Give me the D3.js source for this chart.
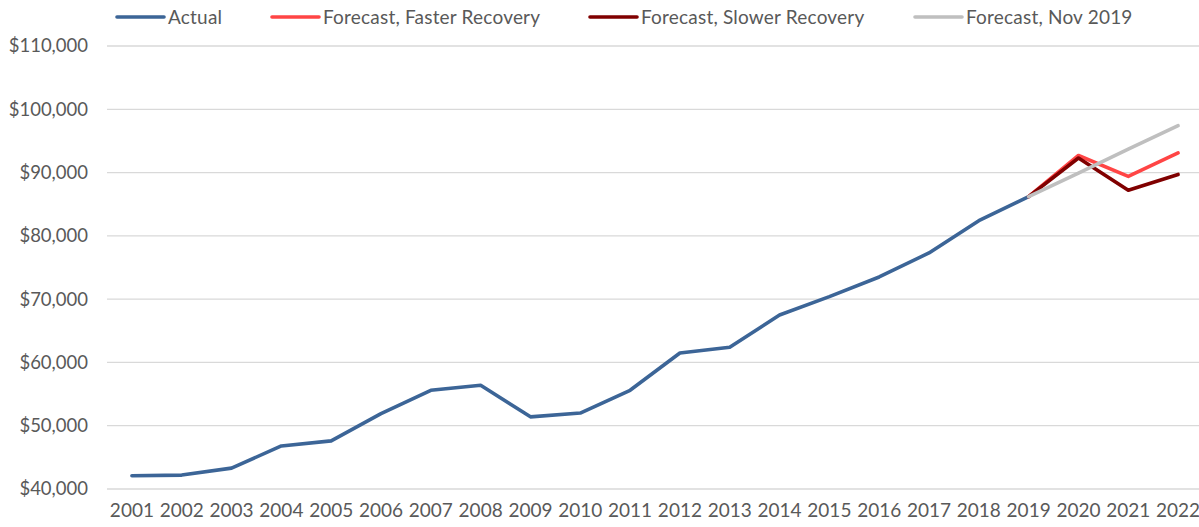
<!DOCTYPE html>
<html>
<head>
<meta charset="utf-8">
<script src="https://cdn.jsdelivr.net/npm/d3@7"></script>
<style>
  html, body { margin: 0; padding: 0; background: #fff; }
  svg { display: block; }
  text { font-family: Lato, "Open Sans", sans-serif; fill: #595959; }
</style>
</head>
<body>
<svg id="chart" width="1199" height="527"></svg>
<script>
const years = ["2001","2002","2003","2004","2005","2006","2007","2008","2009","2010","2011","2012","2013","2014","2015","2016","2017","2018","2019","2020","2021","2022"];
const actualYears = years.slice(0, 19);
const actual = [42100, 42200, 43300, 46800, 47600, 51900, 55600, 56400, 51400, 52000, 55600, 61500, 62400, 67500, 70400, 73500, 77300, 82400, 86200];
const forecastYears = ["2019","2020","2021","2022"];
const faster = [86200, 92700, 89400, 93100];
const slower = [86200, 92300, 87200, 89700];
const nov2019 = [86200, 89900, 93700, 97400];
const yTicks = [40000, 50000, 60000, 70000, 80000, 90000, 100000, 110000];
const seriesNames = ["Actual", "Forecast, Faster Recovery", "Forecast, Slower Recovery", "Forecast, Nov 2019"];
const seriesColors = ["#3C6597", "#FF4545", "#800000", "#BFBFBF"];

const svg = d3.select("#chart");
const x = d3.scaleBand().domain(years).range([107, 1203]);
const y = d3.scaleLinear().domain([40000, 110000]).range([489, 46]);
const cx = d => x(d) + x.bandwidth() / 2;

// gridlines
svg.append("g").selectAll("line").data(yTicks).join("line")
  .attr("x1", 107).attr("x2", 1203)
  .attr("y1", d => y(d)).attr("y2", d => y(d))
  .attr("stroke", "#D9D9D9").attr("stroke-width", 1.3);

// y axis
const yAxis = d3.axisLeft(y).tickValues(yTicks).tickSize(0).tickPadding(0)
  .tickFormat(d => "$" + d3.format(",")(d));
const ya = svg.append("g").attr("transform", "translate(88,0)").call(yAxis);
ya.select(".domain").remove();
ya.selectAll("text").attr("font-size", 18.5).style("fill", "#595959").attr("font-family", "Lato, sans-serif");

// x axis
const xAxis = d3.axisBottom(x).tickSize(0).tickPadding(0);
const xa = svg.append("g").attr("transform", "translate(0,503)").call(xAxis);
xa.select(".domain").remove();
xa.selectAll("text").attr("font-size", 19).style("fill", "#595959").attr("font-family", "Lato, sans-serif");

// lines
const line = d3.line().x(d => cx(d[0])).y(d => y(d[1]));
const data = [
  d3.zip(actualYears, actual),
  d3.zip(forecastYears, faster),
  d3.zip(forecastYears, slower),
  d3.zip(forecastYears, nov2019)
];
svg.append("g").selectAll("path").data(data).join("path")
  .attr("d", line)
  .attr("fill", "none")
  .attr("stroke", (d, i) => seriesColors[i])
  .attr("stroke-width", 3.6)
  .attr("stroke-linejoin", "round")
  .attr("stroke-linecap", "round");

// legend
const legendX = [117, 272, 590, 915];
const lg = svg.append("g").selectAll("g").data(seriesNames).join("g")
  .attr("transform", (d, i) => `translate(${legendX[i]},17)`);
lg.append("line").attr("x1", 0).attr("x2", 47).attr("y1", 0).attr("y2", 0)
  .attr("stroke", (d, i) => seriesColors[i]).attr("stroke-width", 3.6).attr("stroke-linecap", "round");
lg.append("text").attr("x", 51).attr("y", 6.5).attr("font-size", 19)
  .style("letter-spacing", "0.2px").text(d => d);
</script>
</body>
</html>
